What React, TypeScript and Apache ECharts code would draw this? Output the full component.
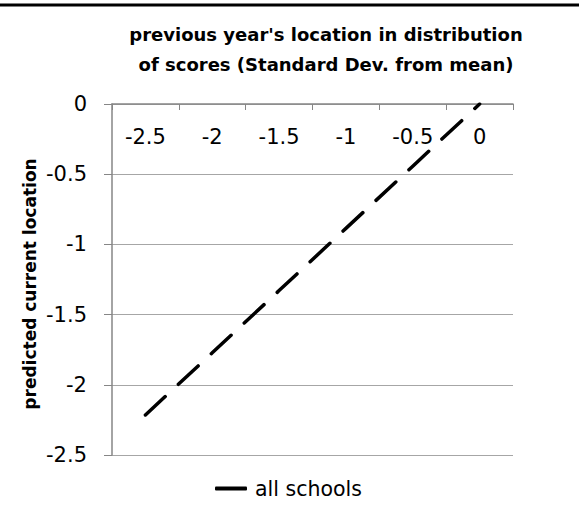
import React, { useEffect, useRef } from "react";
import * as echarts from "echarts";

const categories = ["-2.5", "-2", "-1.5", "-1", "-0.5", "0"];
const allSchools = [-2.215, -1.772, -1.329, -0.886, -0.443, 0];
const yTicks = { min: -2.5, max: 0, interval: 0.5 };
const titleLines = ["previous year's location in distribution", "of scores (Standard Dev. from mean)"];
const yAxisTitle = "predicted current location";
const seriesName = "all schools";

const FONT = "DejaVu Sans";

export default function App() {
  const ref = useRef<HTMLDivElement>(null);
  useEffect(() => {
    if (!ref.current) return;
    const chart = echarts.init(ref.current, null, { renderer: "svg" });
    chart.setOption({
      animation: false,
      backgroundColor: "#ffffff",
      textStyle: { fontFamily: FONT },
      title: {
        text: titleLines.join("\n"),
        left: 321,
        textAlign: "center",
        top: 14,
        textStyle: { fontFamily: FONT, fontSize: 18, fontWeight: "bold", color: "#000", lineHeight: 30 },
      },
      graphic: [
        { type: "line", shape: { x1: 0, y1: 5, x2: 579, y2: 5 }, style: { stroke: "#000", lineWidth: 3 } },
        {
          type: "text",
          x: 30,
          y: 284,
          rotation: Math.PI / 2,
          style: {
            text: yAxisTitle,
            font: `bold 17px "${FONT}"`,
            fill: "#000",
            align: "center",
            verticalAlign: "middle",
          },
        },
      ],
      legend: {
        left: 210,
        top: 473,
        itemWidth: 32,
        itemHeight: 4,
        itemGap: 9,
        icon: "roundRect",
        textStyle: { fontFamily: FONT, fontSize: 20.5, color: "#000", padding: [0, 0, 0, 3] },
        data: [seriesName],
      },
      grid: { left: 112, top: 104, width: 401, height: 351, containLabel: false },
      xAxis: {
        type: "category",
        data: categories,
        position: "top",
        boundaryGap: true,
        axisLine: { show: true, lineStyle: { color: "#868686", width: 1.5 } },
        axisTick: { show: true, inside: true, length: 6, lineStyle: { color: "#868686" } },
        axisLabel: { inside: true, margin: 22, color: "#000", fontSize: 21, fontFamily: FONT },
        splitLine: { show: false },
      },
      yAxis: {
        type: "value",
        min: yTicks.min,
        max: yTicks.max,
        interval: yTicks.interval,
        axisLine: { show: true, lineStyle: { color: "#868686", width: 1.5 } },
        axisTick: { show: true, length: 8, lineStyle: { color: "#868686" } },
        axisLabel: { color: "#000", fontSize: 21, fontFamily: FONT, margin: 25 },
        splitLine: { show: true, lineStyle: { color: "#a6a6a6", width: 1 } },
      },
      series: [
        {
          name: seriesName,
          type: "line",
          data: allSchools,
          symbol: "none",
          lineStyle: { color: "#000", width: 3.5, type: [27, 18], cap: "round" },
          itemStyle: { color: "#000" },
        },
      ],
    });
    return () => chart.dispose();
  }, []);
  return <div ref={ref} style={{ position: "fixed", left: 0, top: 0, width: 579, height: 524 }} />;
}
